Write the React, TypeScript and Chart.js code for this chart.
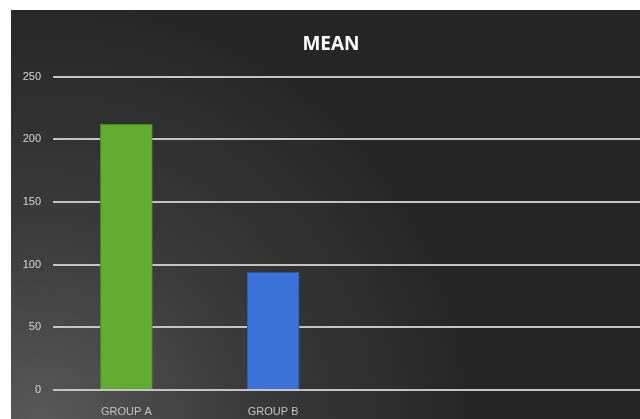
import React, { useEffect, useRef } from "react";
import { Chart, registerables } from "chart.js";

Chart.register(...registerables);

const categories = ["GROUP A", "GROUP B", "", ""];
const meanValues = [212, 94, null, null];
const yTicks = [0, 50, 100, 150, 200, 250];
const titleText = "MEAN";

const bgPlugin = {
  id: "bgPlugin",
  beforeDraw(chart: any) {
    const { ctx, width, height } = chart;
    ctx.save();
    ctx.fillStyle = "#ffffff";
    ctx.fillRect(0, 0, width, height);
    const g = ctx.createRadialGradient(40, 430, 10, 40, 430, 430);
    g.addColorStop(0, "#585858");
    g.addColorStop(0.45, "#3b3b3b");
    g.addColorStop(1, "#262626");
    ctx.fillStyle = g;
    ctx.fillRect(11, 10, width - 11, height - 10);
    ctx.restore();
  },
};

function barFill(ctx: any, base: string, light: string, dark: string) {
  const chart = ctx.chart;
  const el = ctx.element;
  if (!el || !chart.chartArea) return base;
  const props = el.getProps(["x", "width"], true);
  const x0 = props.x - props.width / 2;
  const x1 = props.x + props.width / 2;
  if (!isFinite(x0) || !isFinite(x1)) return base;
  const g = chart.ctx.createLinearGradient(x0, 0, x1, 0);
  g.addColorStop(0, dark);
  g.addColorStop(0.1, base);
  g.addColorStop(0.5, light);
  g.addColorStop(0.9, base);
  g.addColorStop(1, dark);
  return g;
}

export default function App() {
  const ref = useRef<HTMLCanvasElement>(null);
  useEffect(() => {
    if (!ref.current) return;
    const chart = new Chart(ref.current, {
      type: "bar",
      data: {
        labels: categories,
        datasets: [
          {
            label: titleText,
            data: meanValues as any,
            backgroundColor: (c: any) =>
              c.dataIndex === 0
                ? barFill(c, "#63ac32", "#6cb83a", "#4f8d26")
                : barFill(c, "#3b72d8", "#4580e6", "#2c5bb8"),
            borderColor: (c: any) => (c.dataIndex === 0 ? "#4a8a22" : "#2a56a8"),
            borderWidth: 1,
            barThickness: 52,
          },
        ],
      },
      options: {
        responsive: false,
        animation: false,
        layout: { padding: { left: 22, right: 0, top: 0, bottom: 0 } },
        plugins: {
          legend: { display: false },
          tooltip: { enabled: false },
          title: {
            display: true,
            text: titleText,
            color: "#ffffff",
            font: { family: "Open Sans", size: 19, weight: "bold" },
            padding: { top: 33, bottom: 21 },
          },
        },
        scales: {
          x: {
            grid: { display: false, drawTicks: false },
            border: { display: false },
            ticks: {
              color: "#c4c4c4",
              font: { family: "Liberation Sans", size: 11 },
              padding: 15,
              maxRotation: 0,
              autoSkip: false,
            },
            afterFit: (s: any) => {
              s.height = 29;
            },
          },
          y: {
            min: 0,
            max: 250,
            afterBuildTicks: (s: any) => {
              s.ticks = yTicks.map((v) => ({ value: v }));
            },
            grid: { color: "#c4c4c4", lineWidth: 2, drawTicks: false },
            border: { display: false },
            ticks: {
              color: "#d6d6d6",
              font: { family: "Liberation Sans", size: 11 },
              padding: 12,
            },
            afterFit: (s: any) => {
              s.width = 31;
            },
          },
        },
      },
      plugins: [bgPlugin],
    });
    return () => chart.destroy();
  }, []);
  return (
    <div style={{ position: "absolute", left: 0, top: 0, width: 640, height: 419 }}>
      <canvas ref={ref} width={640} height={419} style={{ display: "block" }} />
    </div>
  );
}
